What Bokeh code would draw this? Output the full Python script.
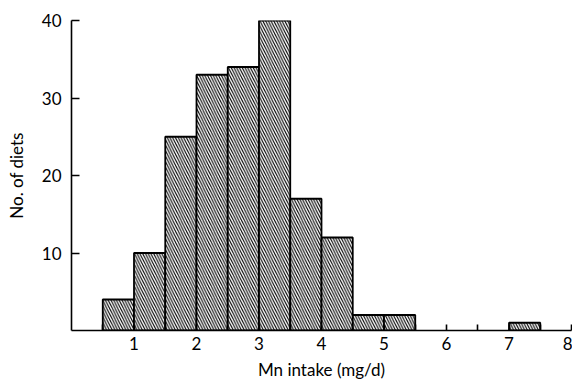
from bokeh.plotting import figure
from bokeh.models import FixedTicker, Range1d, ColumnDataSource
from bokeh.embed import file_html
from bokeh.resources import INLINE

bin_left = [0.5, 1.0, 1.5, 2.0, 2.5, 3.0, 3.5, 4.0, 4.5, 5.0, 7.0]
bin_right = [1.0, 1.5, 2.0, 2.5, 3.0, 3.5, 4.0, 4.5, 5.0, 5.5, 7.5]
counts = [4, 10, 25, 33, 34, 40, 17, 12, 2, 2, 1]
x_ticks = [1, 2, 3, 4, 5, 6, 7, 8]
x_minor = [0.5, 1.5, 2.5, 3.5, 4.5, 5.5, 6.5, 7.5]
y_ticks = [10, 20, 30, 40]

FONT = "Lato"

p = figure(width=572, height=384, output_backend="svg", toolbar_location=None,
           x_range=Range1d(0, 8), y_range=Range1d(0, 40),
           min_border_left=71, min_border_right=1, min_border_top=20, min_border_bottom=54)
p.outline_line_color = None
p.grid.visible = False
p.background_fill_color = "white"

src = ColumnDataSource(dict(left=bin_left, right=bin_right, top=counts, bottom=[0] * len(counts)))
p.quad(left="left", right="right", top="top", bottom="bottom", source=src,
       fill_color="white", line_color="black", line_width=1.8,
       hatch_pattern="\\", hatch_color="black", hatch_scale=5.5, hatch_weight=1.1)

xa = p.xaxis[0]
xa.ticker = FixedTicker(ticks=x_ticks, minor_ticks=x_minor)
xa.major_tick_in = 6
xa.major_tick_out = 0
xa.minor_tick_in = 6
xa.minor_tick_out = 0
xa.axis_line_width = 1.6
xa.major_tick_line_width = 1.6
xa.minor_tick_line_width = 1.6
xa.major_label_standoff = 6
xa.axis_label = "Mn intake (mg/d)"
xa.axis_label_standoff = 6

ya = p.yaxis[0]
ya.ticker = FixedTicker(ticks=y_ticks, minor_ticks=[])
ya.major_tick_in = 8
ya.major_tick_out = 0
ya.minor_tick_in = 0
ya.minor_tick_out = 0
ya.axis_line_width = 1.6
ya.major_tick_line_width = 1.6
ya.major_label_standoff = 10
ya.axis_label = "No. of diets"
ya.axis_label_standoff = 12

for ax in (xa, ya):
    ax.major_label_text_font = FONT
    ax.major_label_text_font_size = "17px"
    ax.major_label_text_color = "black"
    ax.axis_label_text_font = FONT
    ax.axis_label_text_font_size = "17px"
    ax.axis_label_text_font_style = "normal"
    ax.axis_label_text_color = "black"
    ax.axis_line_color = "black"
    ax.major_tick_line_color = "black"
    ax.minor_tick_line_color = "black"

open("out.html", "w").write(file_html(p, INLINE))
